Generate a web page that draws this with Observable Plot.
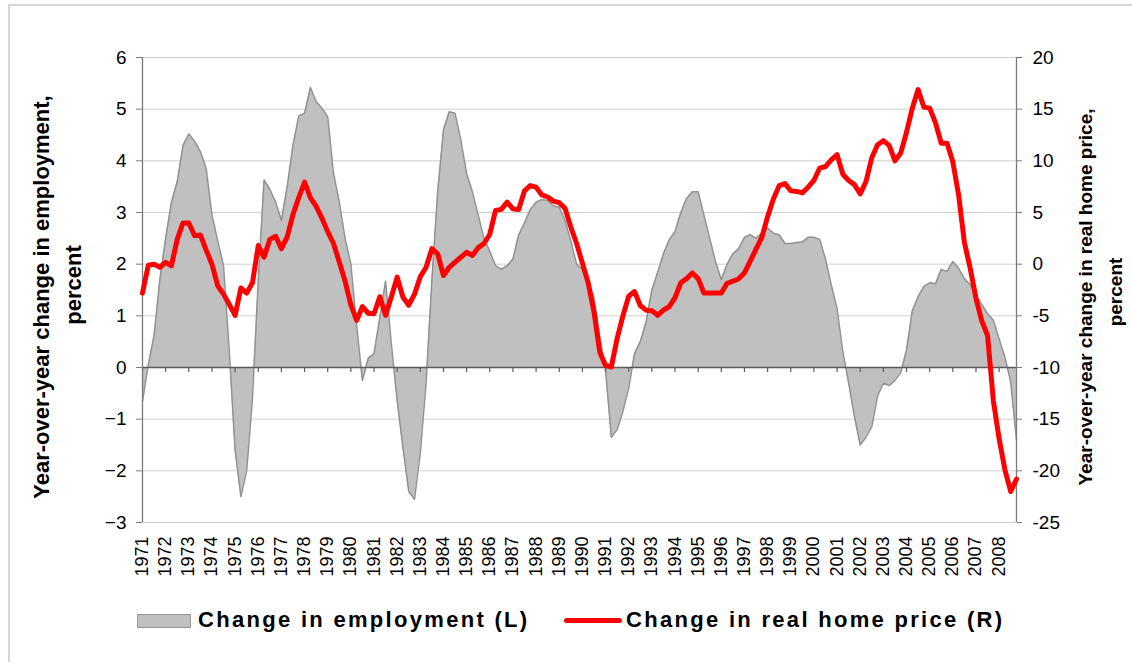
<!DOCTYPE html>
<html>
<head>
<meta charset="utf-8">
<script src="https://cdn.jsdelivr.net/npm/d3@7"></script>
<script src="https://cdn.jsdelivr.net/npm/@observablehq/plot@0.6"></script>
<style>
  body { margin: 0; background: #fff; font-family: "Liberation Sans", Arial, sans-serif; }
  #wrap { position: relative; width: 1132px; height: 662px; overflow: hidden; background: #fff; }
  #frame { position: absolute; left: 8px; top: 4px; width: 1160px; height: 720px; border: 2px solid #d6d6d6; box-sizing: border-box; }
  #chart { position: absolute; left: 0; top: 0; }
  #legend { position: absolute; left: 0; top: 600px; width: 1132px; height: 62px; }
  .sw1 { position: absolute; left: 137px; top: 14px; width: 52px; height: 12px; background: #c0c0c0; border: 1px solid #969696; }
  .sw2 { position: absolute; left: 564px; top: 18px; width: 58px; height: 5px; background: #ff0000; border-radius: 3px; }
  .lt { position: absolute; top: 9px; font-weight: bold; font-size: 22px; line-height: 22px; letter-spacing: 2.3px; color: #000; white-space: nowrap; }
</style>
</head>
<body>
<div id="wrap">
  <div id="frame"></div>
  <div id="chart"></div>
  <div id="legend">
    <div class="sw1"></div><div class="lt" id="lab1" style="left:198px"></div>
    <div class="sw2"></div><div class="lt" id="lab2" style="left:626px"></div>
  </div>
</div>
<script>
// Quarterly data, 1971 Q1 – 2008 Q4
const startYear = 1971;
const years = d3.range(1971, 2009); // tick labels 1971..2008

// Year-over-year change in employment, percent (left axis)
const employment = [
  -0.65, 0.05, 0.62, 1.7,    // 1971
  2.5, 3.2, 3.6, 4.3,        // 1972
  4.52, 4.38, 4.18, 3.85,    // 1973
  2.95, 2.45, 1.97, 0.3,     // 1974
  -1.6, -2.5, -2.0, -0.6,    // 1975
  1.7, 3.63, 3.45, 3.2,      // 1976
  2.85, 3.5, 4.3, 4.87,      // 1977
  4.92, 5.42, 5.15, 5.02,    // 1978
  4.85, 3.76, 3.2, 2.5,      // 1979
  2.0, 0.8, -0.25, 0.18,     // 1980
  0.27, 0.97, 1.67, 0.45,    // 1981
  -0.65, -1.55, -2.4, -2.55, // 1982
  -1.65, -0.3, 1.7, 3.4,     // 1983
  4.6, 4.95, 4.92, 4.4,      // 1984
  3.75, 3.4, 2.95, 2.5,      // 1985
  2.25, 1.97, 1.9, 1.97,     // 1986
  2.1, 2.57, 2.8, 3.06,      // 1987
  3.2, 3.25, 3.23, 3.13,     // 1988
  3.1, 2.85, 2.45, 2.0,      // 1989
  1.9, 1.67, 1.35, 0.6,      // 1990
  -0.05, -1.35, -1.2, -0.85, // 1991
  -0.4, 0.27, 0.5, 0.88,     // 1992
  1.5, 1.84, 2.2, 2.47,      // 1993
  2.63, 3.0, 3.27, 3.4,      // 1994
  3.4, 2.95, 2.5, 2.05,      // 1995
  1.7, 2.0, 2.2, 2.3,        // 1996
  2.52, 2.57, 2.5, 2.6,      // 1997
  2.7, 2.6, 2.57, 2.4,       // 1998
  2.4, 2.42, 2.43, 2.52,     // 1999
  2.52, 2.48, 2.1, 1.6,      // 2000
  1.14, 0.3, -0.3, -0.95,    // 2001
  -1.5, -1.35, -1.15, -0.55, // 2002
  -0.3, -0.35, -0.25, -0.1,  // 2003
  0.34, 1.1, 1.37, 1.57,     // 2004
  1.64, 1.62, 1.9, 1.86,     // 2005
  2.05, 1.92, 1.72, 1.6,     // 2006
  1.4, 1.22, 1.04, 0.92,     // 2007
  0.55, 0.2, -0.28, -1.4     // 2008
];

// Year-over-year change in real home price, percent (right axis)
const homePrice = [
  -2.8, -0.1, 0.0, -0.3,     // 1971
  0.18, -0.16, 2.4, 3.99,    // 1972
  3.99, 2.76, 2.83, 1.35,    // 1973
  0.0, -2.1, -2.9, -3.9,     // 1974
  -4.96, -2.3, -2.8, -1.8,   // 1975
  1.8, 0.67, 2.4, 2.7,       // 1976
  1.5, 2.65, 4.8, 6.45,      // 1977
  7.95, 6.45, 5.6, 4.45,     // 1978
  3.15, 2.0, 0.2, -1.65,     // 1979
  -3.95, -5.45, -4.1, -4.75, // 1980
  -4.8, -3.15, -4.95, -3.15, // 1981
  -1.25, -3.2, -3.97, -2.9,  // 1982
  -1.2, -0.3, 1.5, 1.0,      // 1983
  -1.1, -0.3, 0.2, 0.67,     // 1984
  1.15, 0.84, 1.6, 2.0,      // 1985
  2.9, 5.2, 5.3, 6.0,        // 1986
  5.35, 5.3, 7.1, 7.6,       // 1987
  7.45, 6.7, 6.5, 6.1,       // 1988
  5.95, 5.4, 3.6, 2.0,       // 1989
  0.1, -1.8, -4.6, -8.5,     // 1990
  -9.8, -9.95, -7.2, -5.0,   // 1991
  -3.1, -2.65, -4.0, -4.45,  // 1992
  -4.5, -4.95, -4.45, -4.1,  // 1993
  -3.25, -1.8, -1.4, -0.85,  // 1994
  -1.4, -2.8, -2.8, -2.8,    // 1995
  -2.8, -1.85, -1.65, -1.42, // 1996
  -0.85, 0.3, 1.45, 2.6,     // 1997
  4.6, 6.3, 7.6, 7.8,        // 1998
  7.1, 7.04, 6.9, 7.45,      // 1999
  8.1, 9.3, 9.45, 10.1,      // 2000
  10.6, 8.7, 8.1, 7.7,       // 2001
  6.8, 8.0, 10.3, 11.55,     // 2002
  11.95, 11.5, 10.0, 10.75,  // 2003
  12.77, 15.1, 16.9, 15.2,   // 2004
  15.1, 13.7, 11.7, 11.7,    // 2005
  9.9, 6.7, 2.1, -0.4,       // 2006
  -3.3, -5.5, -6.9, -13.2,   // 2007
  -16.9, -19.9, -22.0, -20.8 // 2008
];

const leftTicks = [-3, -2, -1, 0, 1, 2, 3, 4, 5, 6];
const rightTicks = [-25, -20, -15, -10, -5, 0, 5, 10, 15, 20];
const leftTitle = ["Year-over-year change in employment,", "percent"];
const rightTitle = ["Year-over-year change in real home price,", "percent"];
const seriesNames = ["Change in employment (L)", "Change in real home price (R)"];

// right axis value r maps onto left scale as (r + 10) / 5
const toLeft = r => (r + 10) / 5;

const data = employment.map((e, i) => ({t: startYear + i / 4, emp: e, hp: homePrice[i]}));
const xEnd = startYear + (employment.length - 1) / 4;

const chart = Plot.plot({
  width: 1132,
  height: 600,
  marginLeft: 142,
  marginRight: 116,
  marginTop: 57,
  marginBottom: 78,
  style: {fontFamily: "'Liberation Sans', Arial, sans-serif", fontSize: "19px", background: "transparent", overflow: "visible"},
  x: {type: "linear", domain: [startYear, xEnd]},
  y: {domain: [-3, 6]},
  marks: [
    Plot.gridY(leftTicks, {stroke: "#cfcfcf", strokeOpacity: 1, strokeWidth: 1}),
    Plot.areaY(data, {x: "t", y: "emp", fill: "#c0c0c0"}),
    Plot.lineY(data, {x: "t", y: "emp", stroke: "#929292", strokeWidth: 1.5}),
    Plot.ruleY([0], {stroke: "#5a5a5a", strokeWidth: 1.5}),
    Plot.ruleX(years, {x: d => d, y1: 0, y2: 0, insetTop: 0, insetBottom: -5, stroke: "#5a5a5a", strokeWidth: 1.2}),
    Plot.ruleX([startYear], {stroke: "#7a7a7a", strokeWidth: 1.3}),
    Plot.ruleX([xEnd], {stroke: "#7a7a7a", strokeWidth: 1.3}),
    Plot.axisY({anchor: "left", ticks: leftTicks, tickSize: 6, tickPadding: 10, label: null, stroke: "#7a7a7a", fill: "#000", fontSize: 19}),
    Plot.axisY({anchor: "right", ticks: rightTicks.map(toLeft), tickFormat: d => String(Math.round(d * 5 - 10)), tickSize: 5, tickPadding: 11, label: null, stroke: "#7a7a7a", fill: "#000", fontSize: 19}),
    Plot.axisX({ticks: [], label: null, tickSize: 0}),
    Plot.text(years, {x: d => d, text: d => String(d), frameAnchor: "bottom", rotate: -90, textAnchor: "end", lineAnchor: "bottom", dy: 14, dx: 5.5, fontSize: 18, fill: "#000"}),
    Plot.lineY(data, {x: "t", y: d => toLeft(d.hp), stroke: "#ff0000", strokeWidth: 5, strokeLinejoin: "round", strokeLinecap: "round"}),
    Plot.text([leftTitle[0]], {frameAnchor: "left", text: d => d, rotate: -90, textAnchor: "middle", lineAnchor: "bottom", dx: -94, dy: 7, fontSize: 22, fontWeight: "bold", fill: "#000"}),
    Plot.text([leftTitle[1]], {frameAnchor: "left", text: d => d, rotate: -90, textAnchor: "middle", lineAnchor: "bottom", dx: -62, dy: -5, fontSize: 22, fontWeight: "bold", fill: "#000"}),
    Plot.text([rightTitle[0]], {frameAnchor: "right", text: d => d, rotate: -90, textAnchor: "middle", lineAnchor: "bottom", dx: 75, dy: 7, fontSize: 19, fontWeight: "bold", fill: "#000"}),
    Plot.text([rightTitle[1]], {frameAnchor: "right", text: d => d, rotate: -90, textAnchor: "middle", lineAnchor: "bottom", dx: 105, dy: 2, fontSize: 19, fontWeight: "bold", fill: "#000"})
  ]
});
document.getElementById("chart").appendChild(chart);
document.getElementById("lab1").textContent = seriesNames[0];
document.getElementById("lab2").textContent = seriesNames[1];
</script>
</body>
</html>
